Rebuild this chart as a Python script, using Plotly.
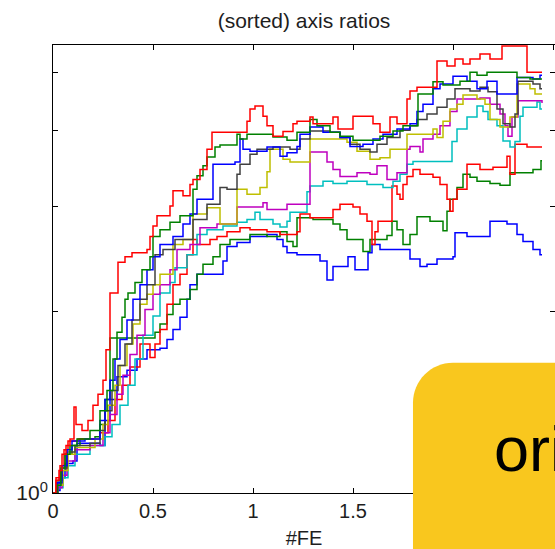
import plotly.graph_objects as go

# ---- data: (#FE, axis ratio) step points ----
blue_low = [(0, 1.00), (.02, 1.01), (.035, 1.06), (.06, 1.12), (.1, 1.13), (.12, 1.21), (.235, 1.20), (.26, 1.32),
            (.285, 1.43), (.32, 1.56), (.37, 1.60), (.42, 1.67), (.47, 1.73), (.535, 1.74), (.57, 1.80), (.6, 1.87),
            (.635, 1.96), (.67, 2.10), (.685, 2.22), (.72, 2.31), (.85, 2.43), (.87, 2.57), (.92, 2.61), (.985, 2.67),
            (1.07, 2.69), (1.12, 2.64), (1.15, 2.57), (1.17, 2.51), (1.22, 2.49), (1.335, 2.43), (1.37, 2.26),
            (1.4, 2.38), (1.475, 2.47), (1.51, 2.35), (1.575, 2.51), (1.595, 2.59), (1.635, 2.54), (1.785, 2.45),
            (1.835, 2.38), (1.87, 2.40), (1.92, 2.45), (2.0, 2.47), (2.01, 2.71), (2.07, 2.67), (2.185, 2.83),
            (2.27, 2.80), (2.32, 2.69), (2.35, 2.62), (2.4, 2.54), (2.435, 2.49), (2.445, 2.49)]

green_mid = [(0, 1.00), (.02, 1.04), (.04, 1.09), (.065, 1.16), (.095, 1.20), (.135, 1.23), (.21, 1.24), (.235, 1.30),
             (.26, 1.43), (.285, 1.81), (.51, 1.85), (.535, 1.91), (.57, 1.98), (.6, 2.06), (.635, 2.10), (.685, 2.18),
             (.72, 2.31), (.75, 2.40), (.8, 2.47), (.835, 2.59), (.885, 2.64), (.985, 2.69), (1.07, 2.67), (1.135, 2.72),
             (1.17, 2.62), (1.2, 2.57), (1.22, 2.87), (1.3, 2.85), (1.4, 2.80), (1.435, 2.74), (1.47, 2.64), (1.55, 2.52),
             (1.585, 2.64), (1.67, 2.68), (1.695, 2.83), (1.72, 2.74), (1.75, 2.59), (1.785, 2.69), (1.82, 2.88),
             (1.885, 2.83), (1.95, 2.73), (1.97, 2.94), (1.985, 3.08), (2.02, 3.22), (2.05, 3.39), (2.085, 3.35),
             (2.12, 3.30), (2.185, 3.27), (2.235, 3.25), (2.285, 3.41), (2.4, 3.45), (2.44, 3.57), (2.445, 3.57)]

red_mid = [(0, 1.00), (.015, 1.06), (.035, 1.11), (.055, 1.18), (.075, 1.22), (.125, 1.23), (.235, 1.26), (.275, 1.32),
           (.31, 1.43), (.345, 1.51), (.385, 1.62), (.435, 1.77), (.485, 1.68), (.51, 1.77), (.535, 1.87), (.57, 2.06),
           (.6, 2.22), (.635, 2.31), (.67, 2.49), (.7, 2.64), (.72, 2.59), (.785, 2.64), (.82, 2.67), (.87, 2.72),
           (.935, 2.76), (.985, 2.74), (1.07, 2.72), (1.135, 2.69), (1.22, 2.72), (1.235, 2.91), (1.285, 2.87),
           (1.4, 2.96), (1.435, 3.02), (1.5, 2.99), (1.535, 2.91), (1.57, 2.83), (1.595, 2.59), (1.61, 2.72),
           (1.625, 2.83), (1.695, 3.24), (1.72, 3.14), (1.735, 3.08), (1.75, 3.26), (1.77, 3.36), (1.8, 3.45),
           (1.835, 3.39), (1.9, 3.35), (1.935, 3.26), (1.97, 3.08), (1.985, 2.94), (2.0, 3.08), (2.02, 3.20),
           (2.07, 3.52), (2.135, 3.45), (2.2, 3.48), (2.27, 3.63), (2.285, 3.39), (2.31, 3.80), (2.37, 3.76),
           (2.445, 3.76)]

cyan = [(0, 1.00), (.025, 1.02), (.05, 1.06), (.075, 1.11), (.11, 1.16), (.185, 1.20), (.26, 1.24), (.295, 1.30),
        (.335, 1.40), (.375, 1.51), (.41, 1.67), (.45, 1.83), (.5, 1.97), (.535, 2.15), (.585, 2.24), (.61, 2.37),
        (.67, 2.49), (.72, 2.69), (.77, 2.74), (.85, 2.78), (.92, 2.82), (.97, 2.85), (1.01, 2.93), (1.035, 2.85),
        (1.1, 2.80), (1.135, 2.77), (1.17, 2.83), (1.185, 2.93), (1.27, 3.17), (1.285, 3.24), (1.35, 3.30),
        (1.4, 3.27), (1.47, 3.30), (1.57, 3.26), (1.65, 3.22), (1.7, 3.30), (1.735, 3.39), (1.77, 3.52), (1.8, 3.56),
        (1.995, 3.84), (2.02, 4.03), (2.07, 4.22), (2.12, 4.40), (2.15, 4.31), (2.175, 4.18), (2.22, 4.08),
        (2.25, 3.85), (2.285, 3.76), (2.31, 3.84), (2.335, 4.23), (2.35, 4.38), (2.42, 4.47), (2.435, 4.35),
        (2.445, 4.35)]

magenta = [(0, 1.00), (.02, 1.02), (.045, 1.07), (.07, 1.13), (.11, 1.18), (.185, 1.20), (.25, 1.26), (.285, 1.35),
           (.32, 1.46), (.35, 1.57), (.385, 1.70), (.42, 1.83), (.46, 2.02), (.5, 2.14), (.535, 2.22), (.585, 2.35),
           (.62, 2.54), (.685, 2.59), (.735, 2.76), (.82, 2.80), (.92, 2.99), (1.05, 3.04), (1.07, 2.96), (1.17, 3.02),
           (1.285, 3.69), (1.37, 3.55), (1.4, 3.45), (1.435, 3.36), (1.52, 3.41), (1.585, 3.39), (1.62, 3.50),
           (1.67, 3.32), (1.72, 3.41), (1.77, 3.73), (1.785, 3.77), (1.835, 3.69), (1.85, 3.88), (1.9, 3.95),
           (1.935, 4.08), (1.985, 4.31), (2.02, 4.52), (2.135, 4.54), (2.185, 4.43), (2.235, 4.27), (2.26, 4.08),
           (2.275, 3.92), (2.295, 4.22), (2.325, 4.49), (2.445, 4.45)]

yellow = [(0, 1.00), (.025, 1.03), (.05, 1.09), (.075, 1.16), (.11, 1.19), (.21, 1.23), (.25, 1.30), (.275, 1.40),
          (.31, 1.51), (.335, 1.63), (.37, 1.77), (.4, 1.91), (.435, 2.06), (.47, 2.14), (.5, 2.22), (.535, 2.31),
          (.6, 2.59), (.65, 2.64), (.7, 2.91), (.77, 2.98), (.835, 2.80), (.92, 3.20), (.97, 3.14), (1.035, 3.22),
          (1.07, 3.42), (1.085, 3.73), (1.15, 3.59), (1.185, 3.55), (1.285, 3.88), (1.47, 3.83), (1.52, 3.70),
          (1.585, 3.59), (1.635, 3.61), (1.685, 3.73), (1.77, 3.95), (1.9, 4.03), (1.92, 3.90), (1.95, 4.15),
          (1.985, 4.35), (2.02, 4.43), (2.05, 4.59), (2.12, 4.52), (2.16, 4.43), (2.185, 4.18), (2.235, 4.06),
          (2.285, 4.22), (2.32, 4.79), (2.385, 4.70), (2.41, 4.61), (2.445, 4.61)]

black = [(0, 1.00), (.025, 1.05), (.045, 1.10), (.07, 1.17), (.11, 1.20), (.185, 1.21), (.235, 1.27), (.26, 1.37),
         (.295, 1.48), (.325, 1.63), (.36, 1.77), (.395, 1.94), (.435, 2.10), (.47, 2.22), (.51, 2.49), (.55, 2.54),
         (.61, 2.64), (.7, 2.85), (.77, 3.02), (.835, 3.22), (.87, 3.20), (.92, 3.39), (.935, 3.52), (.985, 3.66),
         (1.02, 3.73), (1.1, 3.76), (1.185, 3.73), (1.235, 3.88), (1.285, 4.00), (1.385, 3.98), (1.435, 3.90),
         (1.485, 3.80), (1.535, 3.73), (1.585, 3.69), (1.62, 3.80), (1.67, 3.90), (1.735, 4.01), (1.785, 4.08),
         (1.82, 4.18), (1.87, 4.27), (1.92, 4.38), (1.97, 4.52), (2.01, 4.70), (2.085, 4.66), (2.135, 4.73),
         (2.175, 4.65), (2.22, 4.35), (2.25, 4.11), (2.285, 4.06), (2.31, 4.27), (2.325, 4.84), (2.4, 4.79),
         (2.435, 4.70), (2.445, 4.70)]

blue_high = [(0, 1.00), (.02, 1.04), (.045, 1.11), (.07, 1.18), (.095, 1.22), (.16, 1.23), (.235, 1.32), (.26, 1.43),
             (.285, 1.54), (.31, 1.67), (.335, 1.80), (.37, 1.94), (.4, 2.10), (.435, 2.22), (.47, 2.35), (.5, 2.47),
             (.535, 2.59), (.6, 2.67), (.65, 2.80), (.685, 2.91), (.72, 3.08), (.8, 3.52), (.91, 3.55), (.935, 3.88),
             (.95, 3.73), (.985, 3.70), (1.07, 3.76), (1.135, 3.63), (1.17, 3.68), (1.22, 3.77), (1.235, 3.95),
             (1.285, 4.06), (1.35, 3.98), (1.435, 3.90), (1.485, 3.77), (1.55, 3.80), (1.6, 3.88), (1.65, 3.95),
             (1.72, 4.03), (1.785, 4.11), (1.82, 4.31), (1.85, 4.43), (1.9, 4.70), (1.935, 4.79), (2.0, 4.93),
             (2.07, 4.84), (2.12, 4.70), (2.17, 4.84), (2.22, 4.61), (2.32, 4.91), (2.4, 4.88), (2.435, 4.95),
             (2.445, 4.95)]

green_high = [(0, 1.00), (.02, 1.03), (.04, 1.10), (.06, 1.16), (.085, 1.20), (.12, 1.23), (.185, 1.27), (.235, 1.37),
              (.27, 1.48), (.3, 1.67), (.32, 1.85), (.345, 1.96), (.36, 2.10), (.375, 2.15), (.41, 2.24), (.445, 2.35),
              (.485, 2.47), (.5, 2.67), (.535, 2.74), (.585, 2.82), (.635, 2.89), (.7, 3.20), (.72, 3.37), (.75, 3.50),
              (.77, 3.62), (.81, 3.76), (.835, 3.79), (.92, 3.95), (.935, 3.88), (.97, 3.95), (1.1, 3.91), (1.17, 3.86),
              (1.22, 3.98), (1.285, 4.18), (1.32, 4.08), (1.385, 3.98), (1.435, 3.92), (1.5, 3.86), (1.635, 3.92),
              (1.7, 4.00), (1.75, 4.08), (1.825, 4.61), (1.9, 4.83), (1.95, 4.77), (2.035, 4.84), (2.085, 5.01),
              (2.12, 4.95), (2.17, 5.01), (2.32, 4.91), (2.385, 4.88), (2.445, 4.88)]

red_high = [(0, 1.00), (.015, 1.05), (.03, 1.09), (.045, 1.16), (.065, 1.20), (.085, 1.23), (.105, 1.39), (.115, 1.30),
            (.145, 1.27), (.175, 1.32), (.2, 1.40), (.225, 1.46), (.25, 1.54), (.265, 1.73), (.285, 2.15), (.325, 2.42),
            (.36, 2.47), (.395, 2.51), (.47, 2.54), (.485, 2.67), (.5, 2.78), (.52, 2.89), (.585, 3.00), (.6, 3.18),
            (.65, 3.12), (.685, 3.26), (.7, 3.32), (.735, 3.45), (.77, 3.73), (.795, 3.98), (.97, 4.15), (.985, 4.35),
            (1.01, 4.40), (1.05, 4.23), (1.07, 4.08), (1.1, 3.92), (1.15, 3.99), (1.2, 4.11), (1.22, 4.15),
            (1.285, 4.22), (1.3, 4.11), (1.4, 4.22), (1.425, 4.03), (1.5, 4.23), (1.6, 4.11), (1.635, 3.98),
            (1.685, 4.22), (1.72, 4.11), (1.77, 4.52), (1.785, 4.66), (1.82, 4.73), (1.92, 5.23), (1.97, 5.13),
            (2.01, 5.27), (2.05, 5.17), (2.085, 5.27), (2.135, 5.37), (2.185, 5.27), (2.245, 5.54), (2.37, 5.01),
            (2.445, 5.01)]

series = [
    (blue_low, "#0000FF"), (green_mid, "#008000"), (red_mid, "#FF0000"), (cyan, "#00BFBF"),
    (magenta, "#BF00BF"), (yellow, "#BFBF00"), (black, "#404040"),
    (blue_high, "#0000FF"), (green_high, "#008000"), (red_high, "#FF0000"),
]

x_ticks = [0, 0.5, 1, 1.5, 2, 2.5]
x_tick_labels = ["0", "0.5", "1", "1.5", "2", "2.5"]
y_ticks = [1]
y_tick_labels = ["10<sup>0</sup>"]
y_minor_ticks = [2, 3, 4, 5]

FONT = "Liberation Sans, Arial, Helvetica, sans-serif"
TXT = "#1e1e1e"

fig = go.Figure()
for pts, color in series:
    fig.add_trace(go.Scatter(
        x=[p[0] for p in pts], y=[p[1] for p in pts], mode="lines",
        line=dict(color=color, width=1.5, shape="hv"),
        showlegend=False, hoverinfo="skip"))

axis_common = dict(ticks="inside", ticklen=5, tickcolor="#000", showline=True, linecolor="#000",
                   linewidth=1, mirror="ticks", showgrid=False, zeroline=False)

fig.update_layout(
    width=555, height=549,
    margin=dict(l=53, r=0, t=45, b=56, pad=0),
    paper_bgcolor="white", plot_bgcolor="white", showlegend=False,
    title=dict(text="(sorted) axis ratios", x=0.5, xref="paper", xanchor="center",
               y=1 - 21 / 549, yref="container", yanchor="middle",
               font=dict(family=FONT, size=21, color=TXT)),
    xaxis=dict(range=[0, 2.51], tickvals=x_ticks, ticktext=x_tick_labels,
               tickfont=dict(family=FONT, size=20, color=TXT),
               title=dict(text="#FE", font=dict(family=FONT, size=20, color=TXT), standoff=11),
               **axis_common),
    yaxis=dict(type="log", range=[0, 0.745], tickvals=y_ticks, ticktext=y_tick_labels,
               tickfont=dict(family=FONT, size=21, color=TXT),
               minor=dict(tickvals=y_minor_ticks, ticks="inside", ticklen=5, tickcolor="#000", showgrid=False),
               **axis_common),
)

# yellow rounded label box overlay (bottom right)
x0, ytop, x1, ybot = 0.7171, 0.2908, 1.06, -0.16
rx, ry = 40 / 502, 40 / 447
k = 0.5523
path = (f"M {x0},{ybot} L {x0},{ytop - ry} "
        f"C {x0},{ytop - ry + k * ry} {x0 + rx - k * rx},{ytop} {x0 + rx},{ytop} "
        f"L {x1},{ytop} L {x1},{ybot} Z")
fig.add_shape(type="path", path=path, xref="paper", yref="paper",
              fillcolor="#F9C71E", line=dict(width=0), layer="above")
fig.add_annotation(text="original", x=(492 - 53) / 502, y=0.0984, xref="paper", yref="paper",
                   xanchor="left", yanchor="middle", showarrow=False,
                   font=dict(family="Liberation Sans Narrow, Liberation Sans, Arial, sans-serif",
                             size=63, color="#000"))

fig.write_html("out.html")
